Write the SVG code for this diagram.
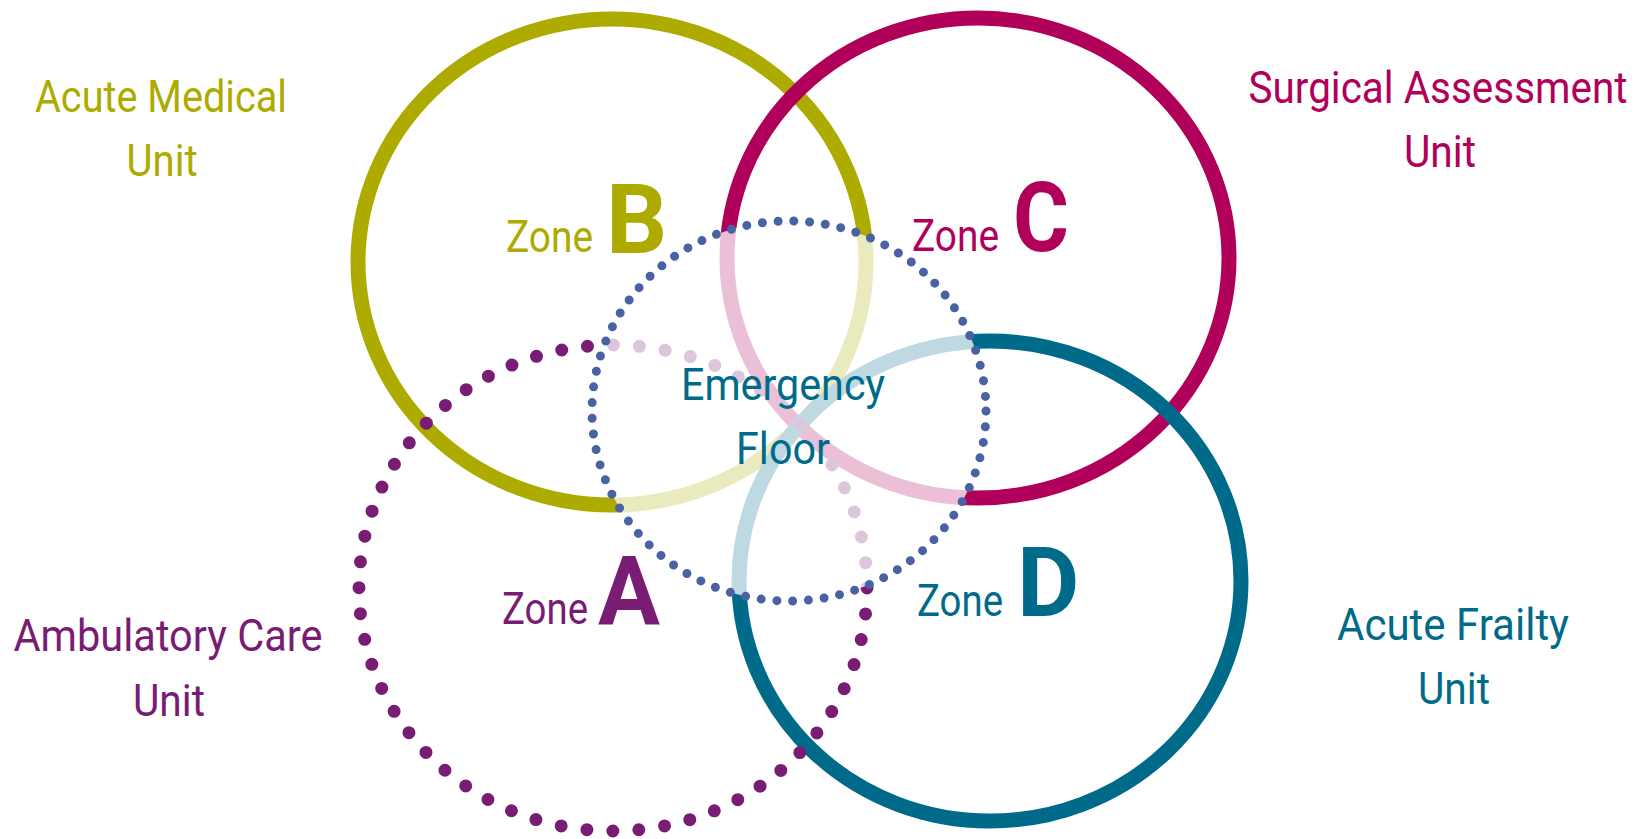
<svg xmlns="http://www.w3.org/2000/svg" width="1648" height="839" viewBox="0 0 1648 839">
<style>
.ring{fill:none;stroke-width:15}
.t{font-family:Roboto,"Liberation Sans",sans-serif;font-size:45px;text-anchor:middle}
.z{font-family:Roboto,"Liberation Sans",sans-serif;font-size:45px}
.big{font-family:Roboto,"Liberation Sans",sans-serif;font-size:96px;font-weight:bold}
.ol{fill:#adab00}.mg{fill:#b0005a}.tl{fill:#006a8a}.pu{fill:#781c74}
</style>
<rect width="1648" height="839" fill="#ffffff"/>
<g id="connectors">
<ellipse id="ringB" class="ring" cx="612" cy="262" rx="254" ry="243" stroke="#adab00"/>
<ellipse id="ringC" class="ring" cx="978" cy="258" rx="251" ry="240" stroke="#b0005a"/>
<ellipse id="ringD" class="ring" cx="990" cy="581" rx="251" ry="240" stroke="#006a8a"/>
<ellipse id="ringA" cx="613" cy="588" rx="254" ry="243" fill="none" stroke="#781c74" stroke-width="13" stroke-linecap="round" stroke-dasharray="0 26.025"/>
<ellipse id="fade" cx="789" cy="411" rx="197" ry="190" fill="#ffffff" fill-opacity="0.75"/>
<ellipse id="ringE" cx="789" cy="411" rx="197" ry="190" fill="none" stroke="#4862a3" stroke-width="9" stroke-linecap="round" stroke-dasharray="0 15.8"/>
</g>
<g id="amu">
<text class="t ol" x="161" y="112" textLength="252" lengthAdjust="spacingAndGlyphs">Acute Medical</text>
<text class="t ol" x="162" y="176" textLength="71" lengthAdjust="spacingAndGlyphs">Unit</text>
</g>
<g id="sau">
<text class="t mg" x="1438" y="103" textLength="379" lengthAdjust="spacingAndGlyphs">Surgical Assessment</text>
<text class="t mg" x="1440" y="167" textLength="72" lengthAdjust="spacingAndGlyphs">Unit</text>
</g>
<g id="afu">
<text class="t tl" x="1453" y="640" textLength="232" lengthAdjust="spacingAndGlyphs">Acute Frailty</text>
<text class="t tl" x="1454" y="704" textLength="72" lengthAdjust="spacingAndGlyphs">Unit</text>
</g>
<g id="acu">
<text class="t pu" x="168" y="651" textLength="309" lengthAdjust="spacingAndGlyphs">Ambulatory Care</text>
<text class="t pu" x="169" y="716" textLength="72" lengthAdjust="spacingAndGlyphs">Unit</text>
</g>
<g id="zoneB">
<text class="z ol" x="506" y="252" textLength="87" lengthAdjust="spacingAndGlyphs">Zone</text>
<text class="big ol" x="606" y="253">B</text>
</g>
<g id="zoneC">
<text class="z mg" x="912" y="251" textLength="87" lengthAdjust="spacingAndGlyphs">Zone</text>
<text class="big mg" x="1013" y="251" textLength="56" lengthAdjust="spacingAndGlyphs">C</text>
</g>
<g id="zoneA">
<text class="z pu" x="502" y="624" textLength="86" lengthAdjust="spacingAndGlyphs">Zone</text>
<text class="big pu" x="598" y="624" textLength="62" lengthAdjust="spacingAndGlyphs">A</text>
</g>
<g id="zoneD">
<text class="z tl" x="917" y="616" textLength="86" lengthAdjust="spacingAndGlyphs">Zone</text>
<text class="big tl" x="1017" y="616">D</text>
</g>
<g id="emergency">
<text class="t tl" x="783" y="400" textLength="204" lengthAdjust="spacingAndGlyphs">Emergency</text>
<text class="t tl" x="783" y="464" textLength="94" lengthAdjust="spacingAndGlyphs">Floor</text>
</g>
</svg>
